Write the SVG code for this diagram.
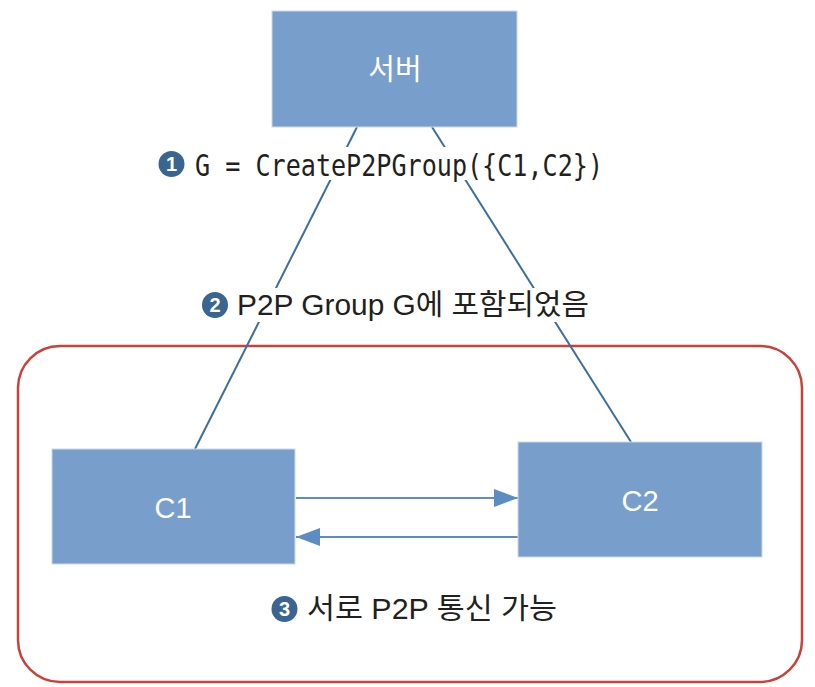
<svg xmlns="http://www.w3.org/2000/svg" width="815" height="687" viewBox="0 0 815 687">
<defs>
<style>
.box{fill:#789ecb;stroke:#c9d8ea;stroke-width:1}
.nt{fill:#ffffff;font-family:"Liberation Sans","Noto Sans CJK KR",sans-serif;font-size:29px;text-anchor:middle}
.link{stroke:#3f6e9c;stroke-width:2;fill:none}
.msg{stroke:#5b8cc2;stroke-width:2;fill:none}
.lbl{fill:#231f20;font-family:"Liberation Sans","Noto Sans CJK KR",sans-serif;font-size:29px}
.mono{fill:#231f20;font-family:"DejaVu Sans Mono","Liberation Mono",monospace;font-size:31px}
.num{fill:#3a6591}
.numt{fill:#ffffff;font-family:"Liberation Sans",sans-serif;font-weight:bold;font-size:20px;text-anchor:middle}
.bg{fill:#ffffff}
</style>
<marker id="ah" markerWidth="24" markerHeight="18" refX="24" refY="9" orient="auto" markerUnits="userSpaceOnUse">
<path d="M0,0 L24,9 L0,18 Z" fill="#5b8cc2"/>
</marker>
</defs>
<rect x="0" y="0" width="815" height="687" fill="#ffffff"/>
<rect id="group" x="18" y="346" width="784" height="336" rx="42" ry="42" fill="none" stroke="#c8413b" stroke-width="2.5"/>
<g id="connectors">
<line class="link" x1="357" y1="127" x2="195" y2="449"/>
<line class="link" x1="432" y1="127" x2="631" y2="442"/>
<line class="msg" x1="296" y1="498" x2="518" y2="498" marker-end="url(#ah)"/>
<line class="msg" x1="518" y1="537" x2="296" y2="537" marker-end="url(#ah)"/>
</g>
<g id="server">
<rect class="box" x="272" y="11" width="245" height="116"/>
<text class="nt" x="395" y="80">서버</text>
</g>
<g id="c1">
<rect class="box" x="52" y="449" width="243" height="115"/>
<text class="nt" x="173" y="518">C1</text>
</g>
<g id="c2">
<rect class="box" x="518" y="442" width="244" height="115"/>
<text class="nt" x="640" y="511">C2</text>
</g>
<g id="label1">
<rect class="bg" x="156" y="147" width="452" height="33"/>
<circle class="num" cx="171.5" cy="164" r="13"/>
<text class="numt" x="171.5" y="171">1</text>
<text class="mono" x="195" y="176" textLength="408" lengthAdjust="spacingAndGlyphs">G = CreateP2PGroup({C1,C2})</text>
</g>
<g id="label2">
<rect class="bg" x="196" y="288" width="398" height="34"/>
<circle class="num" cx="215" cy="305" r="13"/>
<text class="numt" x="215" y="312">2</text>
<text class="lbl" x="237" y="315" textLength="352" lengthAdjust="spacingAndGlyphs">P2P Group G에 포함되었음</text>
</g>
<g id="label3">
<circle class="num" cx="284.5" cy="609" r="13"/>
<text class="numt" x="284.5" y="616">3</text>
<text class="lbl" x="307" y="619" textLength="250" lengthAdjust="spacingAndGlyphs">서로 P2P 통신 가능</text>
</g>
</svg>
